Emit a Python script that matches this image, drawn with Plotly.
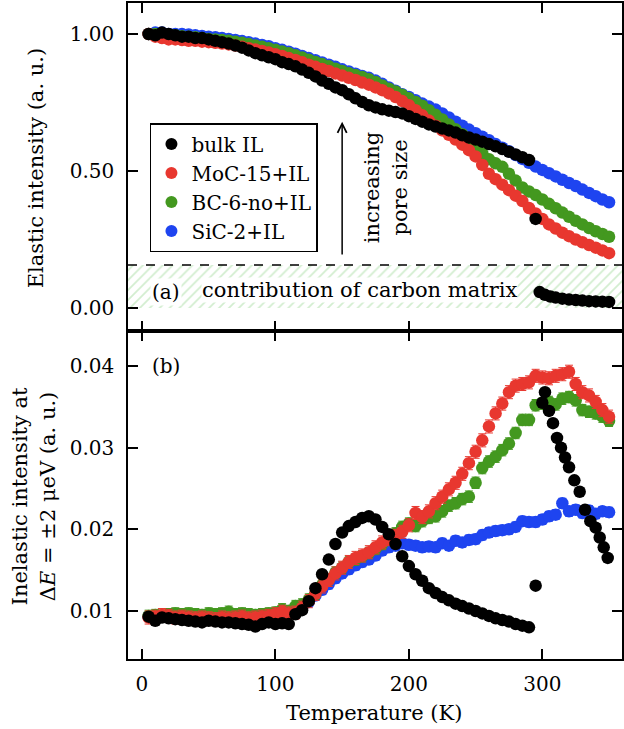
import plotly.graph_objects as go

# ---------------- data ----------------
temps = [5, 10, 15, 20, 25, 30, 35, 40, 45, 50, 55, 60, 65, 70, 75, 80, 85, 90, 95, 100,
         105, 110, 115, 120, 125, 130, 135, 140, 145, 150, 155, 160, 165, 170, 175, 180,
         185, 190, 195, 200, 205, 210, 215, 220, 225, 230, 235, 240, 245, 250, 255, 260,
         265, 270, 275, 280, 285, 290, 295, 300, 305, 310, 315, 320, 325, 330, 335, 340,
         345, 350]

# panel (a) elastic intensity
bulk_el_T = [5, 10, 15, 20, 25, 30, 35, 40, 45, 50, 55, 60, 65, 70, 75, 80, 85, 90, 95, 100,
             105, 110, 115, 120, 125, 130, 135, 140, 145, 150, 155, 160, 165, 170, 175, 180,
             185, 190, 195, 200, 205, 210, 215, 220, 225, 230, 235, 240, 245, 250, 255, 260,
             265, 270, 275, 280, 285, 290,
             295,
             298, 302, 306, 310, 315, 320, 325, 330, 335, 340, 345, 350]
bulk_el = [1.000, 0.995, 1.005, 1.000, 0.995, 0.990, 0.990, 0.985, 0.985, 0.980, 0.975, 0.970,
           0.965, 0.958, 0.950, 0.940, 0.930, 0.922, 0.915, 0.908, 0.897, 0.890, 0.882, 0.870,
           0.858, 0.845, 0.830, 0.818, 0.805, 0.795, 0.780, 0.765, 0.752, 0.740, 0.732, 0.725,
           0.720, 0.715, 0.710, 0.700, 0.690, 0.680, 0.670, 0.662, 0.655, 0.648, 0.640, 0.630,
           0.622, 0.615, 0.607, 0.598, 0.590, 0.580, 0.570, 0.560, 0.550, 0.540,
           0.325,
           0.058, 0.048, 0.042, 0.038, 0.034, 0.031, 0.029, 0.027, 0.025, 0.024, 0.023, 0.022]
moc_el = [1.000, 0.990, 0.985, 0.980, 0.980, 0.978, 0.975, 0.975, 0.972, 0.970, 0.968, 0.965,
          0.962, 0.958, 0.953, 0.948, 0.943, 0.938, 0.932, 0.926, 0.920, 0.912, 0.905, 0.897,
          0.888, 0.880, 0.872, 0.865, 0.856, 0.848, 0.840, 0.832, 0.823, 0.815, 0.805, 0.795,
          0.783, 0.770, 0.755, 0.740, 0.722, 0.703, 0.684, 0.665, 0.648, 0.632, 0.615, 0.596,
          0.576, 0.553, 0.522, 0.490, 0.470, 0.450, 0.430, 0.410, 0.390, 0.365, 0.345, 0.325,
          0.305, 0.290, 0.275, 0.262, 0.250, 0.240, 0.230, 0.220, 0.210, 0.200]
bc_el = [1.000, 1.000, 0.998, 0.995, 0.995, 0.992, 0.990, 0.988, 0.985, 0.982, 0.980, 0.978,
         0.975, 0.972, 0.968, 0.963, 0.958, 0.953, 0.948, 0.942, 0.936, 0.930, 0.922, 0.914,
         0.906, 0.898, 0.890, 0.882, 0.873, 0.865, 0.857, 0.850, 0.843, 0.835, 0.825, 0.812,
         0.800, 0.790, 0.778, 0.765, 0.752, 0.738, 0.722, 0.705, 0.688, 0.670, 0.652, 0.634,
         0.615, 0.590, 0.565, 0.543, 0.528, 0.515, 0.490, 0.465, 0.440, 0.425, 0.412, 0.396,
         0.380, 0.364, 0.348, 0.333, 0.318, 0.305, 0.292, 0.280, 0.270, 0.260]
sic_el = [1.000, 1.005, 1.005, 1.000, 1.000, 1.000, 0.998, 0.995, 0.993, 0.990, 0.988, 0.985,
          0.982, 0.978, 0.974, 0.970, 0.965, 0.960, 0.955, 0.948, 0.942, 0.935, 0.928, 0.920,
          0.912, 0.904, 0.896, 0.888, 0.880, 0.871, 0.863, 0.855, 0.847, 0.840, 0.830, 0.818,
          0.805, 0.793, 0.780, 0.770, 0.758, 0.746, 0.735, 0.724, 0.710, 0.695, 0.680, 0.665,
          0.651, 0.638, 0.625, 0.612, 0.598, 0.585, 0.572, 0.558, 0.544, 0.530, 0.516, 0.504,
          0.492, 0.480, 0.468, 0.456, 0.445, 0.432, 0.420, 0.408, 0.396, 0.386]

# panel (b) inelastic intensity
bulk_in_T = [5, 10, 15, 20, 25, 30, 35, 40, 45, 50, 55, 60, 65, 70, 75, 80, 85, 90, 95, 100,
             105, 110, 115, 120, 125, 130, 135, 140, 145, 150, 155, 160, 165, 170, 175, 180,
             185, 190, 195, 200, 205, 210, 215, 220, 225, 230, 235, 240, 245, 250, 255, 260,
             265, 270, 275, 280, 285, 290,
             295,
             300, 302, 305, 308, 311, 314, 317, 320, 324, 328, 332, 336, 340, 343, 346, 349]
bulk_in = [0.0093, 0.0088, 0.0092, 0.0091, 0.0090, 0.0089, 0.0088, 0.0087, 0.0086, 0.0088,
           0.0087, 0.0086, 0.0086, 0.0085, 0.0084, 0.0083, 0.0081, 0.0084, 0.0086, 0.0084,
           0.0085, 0.0084, 0.0096, 0.0101, 0.0112, 0.0128, 0.0145, 0.0163, 0.0182, 0.0196,
           0.0204, 0.0209, 0.0214, 0.0216, 0.0212, 0.0203, 0.0194, 0.0182, 0.0167, 0.0155,
           0.0145, 0.0137, 0.0128, 0.0122, 0.0117, 0.0113, 0.0109, 0.0106, 0.0103, 0.0100,
           0.0097, 0.0094, 0.0091, 0.0089, 0.0087, 0.0084, 0.0082, 0.0080,
           0.0131,
           0.0355, 0.0368, 0.0345, 0.0330, 0.0312, 0.0300, 0.0288, 0.0276, 0.0260, 0.0246,
           0.0224, 0.0210, 0.0202, 0.0190, 0.0178, 0.0165]
moc_in = [0.0092, 0.0093, 0.0095, 0.0094, 0.0092, 0.0093, 0.0092, 0.0091, 0.0092, 0.0091,
          0.0090, 0.0092, 0.0091, 0.0092, 0.0093, 0.0091, 0.0092, 0.0093, 0.0094, 0.0096,
          0.0099, 0.0097, 0.0098, 0.0104, 0.0112, 0.0121, 0.0130, 0.0138, 0.0146, 0.0153,
          0.0160, 0.0165, 0.0168, 0.0172, 0.0178, 0.0184, 0.0188, 0.0192, 0.0197, 0.0205,
          0.0220, 0.0215, 0.0222, 0.0232, 0.0240, 0.0249, 0.0257, 0.0268, 0.0281, 0.0295,
          0.0309, 0.0326, 0.0342, 0.0354, 0.0368, 0.0376, 0.0378, 0.0380, 0.0388, 0.0386,
          0.0385, 0.0388, 0.0390, 0.0393, 0.0378, 0.0368, 0.0364, 0.0356, 0.0346, 0.0338]
bc_in = [0.0094, 0.0095, 0.0094, 0.0096, 0.0097, 0.0096, 0.0097, 0.0096, 0.0095, 0.0097,
         0.0096, 0.0097, 0.0099, 0.0096, 0.0097, 0.0096, 0.0095, 0.0096, 0.0097, 0.0098,
         0.0102, 0.0100, 0.0106, 0.0108, 0.0114, 0.0121, 0.0132, 0.0139, 0.0147, 0.0153,
         0.0160, 0.0163, 0.0167, 0.0171, 0.0176, 0.0182, 0.0188, 0.0195, 0.0203, 0.0207,
         0.0204, 0.0210, 0.0214, 0.0216, 0.0222, 0.0229, 0.0232, 0.0237, 0.0240, 0.0257,
         0.0275, 0.0283, 0.0289, 0.0297, 0.0305, 0.0318, 0.0334, 0.0334, 0.0352, 0.0354,
         0.0356, 0.0353, 0.0360, 0.0362, 0.0358, 0.0346, 0.0344, 0.0342, 0.0338, 0.0333]
sic_in = [0.0093, 0.0092, 0.0094, 0.0093, 0.0094, 0.0093, 0.0092, 0.0093, 0.0094, 0.0093,
          0.0092, 0.0093, 0.0094, 0.0092, 0.0093, 0.0094, 0.0093, 0.0094, 0.0095, 0.0096,
          0.0097, 0.0098, 0.0100, 0.0105, 0.0111, 0.0119, 0.0126, 0.0133, 0.0140, 0.0146,
          0.0151, 0.0156, 0.0160, 0.0163, 0.0168, 0.0174, 0.0178, 0.0180, 0.0183, 0.0181,
          0.0180, 0.0178, 0.0179, 0.0178, 0.0183, 0.0180, 0.0186, 0.0184, 0.0187, 0.0188,
          0.0193, 0.0196, 0.0198, 0.0199, 0.0200, 0.0203, 0.0210, 0.0209, 0.0209, 0.0212,
          0.0216, 0.0218, 0.0232, 0.0222, 0.0224, 0.0220, 0.0223, 0.0219, 0.0222, 0.0221]

# error bar half-widths per sample (constant per sample)
err_bulk, err_moc, err_bc, err_sic = 0.0004, 0.0008, 0.0007, 0.0006

carbon_level = 0.157

x_ticks = [0, 100, 200, 300]
x_tick_text = ["0", "100", "200", "300"]
ya_ticks = [0.0, 0.5, 1.0]
ya_tick_text = ["0.00", "0.50", "1.00"]
yb_ticks = [0.01, 0.02, 0.03, 0.04]
yb_tick_text = ["0.01", "0.02", "0.03", "0.04"]

x_range = [-10.45, 359.7]
ya_range = [-0.084, 1.113]
yb_range = [0.00412, 0.04429]

names = ["bulk IL", "MoC-15+IL", "BC-6-no+IL", "SiC-2+IL"]
colors = ["#000000", "#e8372f", "#43981f", "#1e44f0"]

FONT = "DejaVu Serif"
FS = 20
FT = 21
MS = 12.5

fig = go.Figure()

# hatched carbon-matrix band
fig.add_trace(go.Scatter(
    x=[x_range[0], x_range[1], x_range[1], x_range[0], x_range[0]],
    y=[0, 0, carbon_level, carbon_level, 0],
    fill="toself", mode="none", showlegend=False, hoverinfo="skip",
    fillcolor="white",
    fillpattern=dict(shape="/", fgcolor="#a6dca0", bgcolor="white", size=7, solidity=0.25),
    xaxis="x", yaxis="y"))

# draw order: blue, green, red, black (black on top)
order = [3, 2, 1, 0]
el_data = {0: (bulk_el_T, bulk_el), 1: (temps, moc_el), 2: (temps, bc_el), 3: (temps, sic_el)}
in_data = {0: (bulk_in_T, bulk_in), 1: (temps, moc_in), 2: (temps, bc_in), 3: (temps, sic_in)}
errs = {0: err_bulk, 1: err_moc, 2: err_bc, 3: err_sic}

for i in order:
    xs, ys = el_data[i]
    fig.add_trace(go.Scatter(
        x=xs, y=ys, mode="markers", name=names[i], legendrank=i + 1,
        marker=dict(color=colors[i], size=MS, line=dict(width=0)),
        xaxis="x", yaxis="y", showlegend=True))
for i in order:
    xs, ys = in_data[i]
    fig.add_trace(go.Scatter(
        x=xs, y=ys, mode="markers", name=names[i],
        marker=dict(color=colors[i], size=MS, line=dict(width=0)),
        error_y=dict(type="constant", value=errs[i], color=colors[i], thickness=1, width=4),
        xaxis="x2", yaxis="y2", showlegend=False))

axis_common = dict(showline=True, linecolor="black", linewidth=1.5, mirror="allticks",
                   ticks="inside", ticklen=10, tickwidth=1.5, tickcolor="black",
                   showgrid=False, zeroline=False,
                   tickfont=dict(family=FONT, size=FS, color="black"))

fig.update_layout(
    width=624, height=729,
    margin=dict(l=128, r=0, t=3, b=70),
    paper_bgcolor="white", plot_bgcolor="white",
    font=dict(family=FONT, size=FS, color="black"),
    xaxis=dict(domain=[0, 1], anchor="y", range=x_range, tickvals=x_ticks,
               showticklabels=False, **axis_common),
    yaxis=dict(domain=[0.5, 1], anchor="x", range=ya_range, tickvals=ya_ticks,
               ticktext=ya_tick_text, ticklabelstandoff=8, **axis_common),
    xaxis2=dict(domain=[0, 1], anchor="y2", range=x_range, tickvals=x_ticks,
                ticktext=x_tick_text, matches="x", ticklabelstandoff=6, **axis_common),
    yaxis2=dict(domain=[0, 0.5], anchor="x2", range=yb_range, tickvals=yb_ticks,
                ticktext=yb_tick_text, ticklabelstandoff=8, **axis_common),
    legend=dict(x=0.0444, y=0.817, xanchor="left", yanchor="top",
                bordercolor="black", borderwidth=1.5, bgcolor="white",
                font=dict(family=FONT, size=FS, color="black"),
                tracegroupgap=0, itemsizing="constant"),
    showlegend=True,
)

fig.add_shape(type="line", xref="x domain", yref="y", x0=0, x1=1,
              y0=carbon_level, y1=carbon_level,
              line=dict(color="black", width=1.5, dash="dash"))

ann_font = dict(family=FONT, size=FS, color="black")
title_font = dict(family=FONT, size=FT, color="black")
fig.add_annotation(x=18, y=0.058, xref="x", yref="y", text="(a)", showarrow=False,
                   font=ann_font, bgcolor="white", borderpad=1)
fig.add_annotation(x=162.7, y=0.066, xref="x", yref="y",
                   text="contribution of carbon matrix", showarrow=False,
                   font=title_font, bgcolor="white", borderpad=0)
fig.add_annotation(x=18, y=0.0400, xref="x2", yref="y2", text="(b)", showarrow=False,
                   font=ann_font)
# arrow: increasing pore size
fig.add_annotation(x=150, y=0.68, ax=150, ay=0.19, xref="x", yref="y",
                   axref="x", ayref="y", text="", showarrow=True,
                   arrowhead=5, arrowsize=1.2, arrowwidth=1.5, arrowcolor="black")
fig.add_annotation(x=183, y=0.438, xref="x", yref="y", text="increasing<br>pore size",
                   textangle=-90, showarrow=False, font=title_font)

# axis titles
fig.add_annotation(x=(375 - 128) / 496, y=(659 - 713) / 656, xref="paper", yref="paper",
                   text="Temperature (K)", showarrow=False, font=title_font,
                   xanchor="center", yanchor="middle")
fig.add_annotation(x=(36 - 128) / 496, y=(659 - 168) / 656, xref="paper", yref="paper",
                   text="Elastic intensity (a. u.)", textangle=-90, showarrow=False,
                   font=title_font, xanchor="center", yanchor="middle")
fig.add_annotation(x=(34 - 128) / 496, y=(659 - 496) / 656, xref="paper", yref="paper",
                   text="Inelastic intensity at<br>Δ<i>E</i> = ±2 μeV (a. u.)",
                   textangle=-90, showarrow=False, font=title_font,
                   xanchor="center", yanchor="middle")

fig.write_html("out.html")
